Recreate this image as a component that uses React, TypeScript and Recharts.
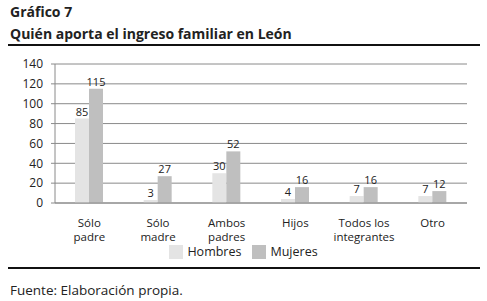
import { BarChart, Bar, XAxis, YAxis, CartesianGrid, LabelList, Legend } from 'recharts';

const categories = ['Sólo padre', 'Sólo madre', 'Ambos padres', 'Hijos', 'Todos los integrantes', 'Otro'];
const tickLines = [['Sólo', 'padre'], ['Sólo', 'madre'], ['Ambos', 'padres'], ['Hijos'], ['Todos los', 'integrantes'], ['Otro']];
const hombres = [85, 3, 30, 4, 7, 7];
const mujeres = [115, 27, 52, 16, 16, 12];
const yTicks = [0, 20, 40, 60, 80, 100, 120, 140];

const data = categories.map((c, i) => ({ name: c, hombres: hombres[i], mujeres: mujeres[i] }));

const FONT = '"Open Sans", "Noto Sans", sans-serif';
const C_H = '#e4e4e4';
const C_M = '#bfbfbf';

function CatTick(props: any) {
  const { x, y, index } = props;
  const lines = tickLines[index] || [];
  return (
    <g>
      {lines.map((l: string, i: number) => (
        <text key={i} x={x} y={y + 16 + i * 13.5} textAnchor="middle" fontFamily={FONT} fontSize={11.5} fill="#222">
          {l}
        </text>
      ))}
    </g>
  );
}

function LegendBox() {
  const items = [
    { label: 'Hombres', color: C_H },
    { label: 'Mujeres', color: C_M },
  ];
  return (
    <div style={{ display: 'flex', justifyContent: 'center', gap: 11, fontFamily: FONT, fontSize: 12.5, lineHeight: '14px', color: '#222' }}>
      {items.map((it) => (
        <div key={it.label} style={{ display: 'flex', alignItems: 'center', gap: 4 }}>
          <div style={{ width: 14, height: 14, background: it.color }} />
          <span>{it.label}</span>
        </div>
      ))}
    </div>
  );
}

export default function App() {
  return (
    <div style={{ position: 'fixed', left: 0, top: 0, width: 487, height: 301, background: '#fff', fontFamily: FONT }}>
      <div style={{ position: 'absolute', left: 10, top: 2, fontSize: 14, fontWeight: 700, color: '#222' }}>Gráfico 7</div>
      <div style={{ position: 'absolute', left: 10, top: 24, fontSize: 14, fontWeight: 700, color: '#222' }}>
        Quién aporta el ingreso familiar en León
      </div>
      <div style={{ position: 'absolute', left: 8, top: 44, width: 472, height: 2, background: '#111' }} />
      <div style={{ position: 'absolute', left: 0, top: 0 }}>
        <BarChart
          width={487}
          height={301}
          data={data}
          margin={{ top: 64, right: 20, left: 0, bottom: 58 }}
          barGap={0}
          barSize={14}
        >
          <CartesianGrid vertical={false} stroke="#8a8a8a" strokeWidth={1} />
          <XAxis
            dataKey="name"
            interval={0}
            tick={<CatTick />}
            tickLine={false}
            axisLine={{ stroke: '#8a8a8a' }}
            height={40}
          />
          <YAxis
            domain={[0, 140]}
            ticks={yTicks}
            interval={0}
            width={55}
            tickSize={4}
            tickMargin={8}
            axisLine={{ stroke: '#8a8a8a' }}
            tickLine={{ stroke: '#8a8a8a' }}
            tick={{ fontFamily: FONT, fontSize: 12, fill: '#222' }}
          />
          <Legend
            layout="vertical"
            align="center"
            verticalAlign="middle"
            content={<LegendBox />}
            wrapperStyle={{ position: 'absolute', top: 245, left: 0, width: 487, height: 14 }}
          />
          <Bar dataKey="hombres" name="Hombres" fill={C_H} isAnimationActive={false}>
            <LabelList dataKey="hombres" position="top" offset={3} style={{ fontFamily: FONT, fontSize: 11, fill: '#222' }} />
          </Bar>
          <Bar dataKey="mujeres" name="Mujeres" fill={C_M} isAnimationActive={false}>
            <LabelList dataKey="mujeres" position="top" offset={3} style={{ fontFamily: FONT, fontSize: 11, fill: '#222' }} />
          </Bar>
        </BarChart>
      </div>
      <div style={{ position: 'absolute', left: 8, top: 267, width: 472, height: 1.5, background: '#111' }} />
      <div style={{ position: 'absolute', left: 10, top: 281, fontSize: 13.5, color: '#222' }}>Fuente: Elaboración propia.</div>
    </div>
  );
}
